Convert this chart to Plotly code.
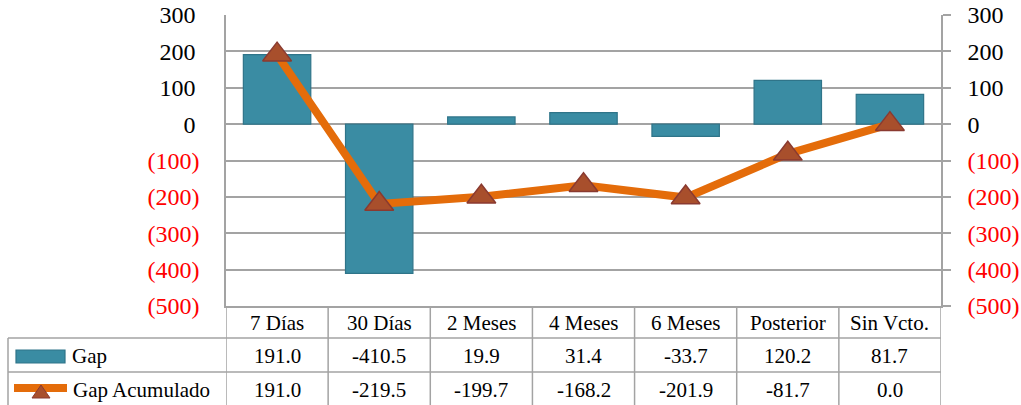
import plotly.graph_objects as go

# ---- data ----
categories = ["7 Días", "30 Días", "2 Meses", "4 Meses", "6 Meses", "Posterior", "Sin Vcto."]
gap = [191.0, -410.5, 19.9, 31.4, -33.7, 120.2, 81.7]
gap_acumulado = [191.0, -219.5, -199.7, -168.2, -201.9, -81.7, 0.0]
y_ticks = [300, 200, 100, 0, -100, -200, -300, -400, -500]
series_names = ["Gap", "Gap Acumulado"]

# ---- layout constants ----
W, H = 1021, 405
ML, MR, MT, MB = 226, 80, 15, 99
PW = W - ML - MR
PH = H - MT - MB
FONT = "Liberation Serif, Times New Roman, serif"
GRID = "#A3A3A3"
BAR = "#3A8CA3"
BAR_EDGE = "#2F7489"
ORANGE = "#E46C0A"
TRI = "#A84F2C"
TRI_EDGE = "#8A3A30"


def px_x(px):
    return (px - ML) / PW


def px_y(py):
    return (H - MB - py) / PH


def fmt_tick(v, pad):
    if v < 0:
        return f'<span style="color:#FF0000">({abs(v)})</span>'
    return f"{v}" + ("\u2006" if pad else "")


fig = go.Figure()
fig.add_trace(go.Bar(
    x=list(range(len(categories))), y=gap, name=series_names[0],
    width=0.66, marker=dict(color=BAR, line=dict(color=BAR_EDGE, width=1.2)),
    yaxis="y", showlegend=False,
))
fig.add_trace(go.Scatter(
    x=list(range(len(categories))), y=gap_acumulado, name=series_names[1],
    mode="lines+markers", line=dict(color=ORANGE, width=8),
    marker=dict(symbol="triangle-up", size=25, color=TRI, line=dict(color=TRI_EDGE, width=1.5)),
    yaxis="y2", showlegend=False,
))

yrange = [-500, 300]
common_y = dict(
    range=yrange, tickvals=y_ticks, showgrid=True, gridcolor=GRID, gridwidth=1.5,
    zeroline=False, showline=True, linecolor=GRID, linewidth=1.5, automargin=False,
    tickfont=dict(family=FONT, size=24, color="black"),
)
fig.update_layout(
    width=W, height=H, margin=dict(l=ML, r=MR, t=MT, b=MB, autoexpand=False),
    paper_bgcolor="white", plot_bgcolor="white", bargap=0.34,
    xaxis=dict(
        range=[-0.5, len(categories) - 0.5], tickvals=list(range(len(categories))),
        ticktext=categories, showgrid=False, zeroline=False, automargin=False,
        showline=True, linecolor=GRID, linewidth=1.5, ticks="", showticklabels=False,
    ),
    yaxis=dict(**common_y, side="left", ticktext=[fmt_tick(v, True) for v in y_ticks],
               ticks="", ticklabelstandoff=20),
    yaxis2=dict(**common_y, side="right", overlaying="y",
                ticktext=[fmt_tick(v, False) for v in y_ticks],
                ticks="outside", ticklen=8, tickcolor=GRID, tickwidth=1.5,
                ticklabelstandoff=12),
)

shapes = []
line_style = dict(color=GRID, width=1.5)
table_bottom = 406
# horizontal table lines
for py in (338, 372):
    shapes.append(dict(type="line", xref="paper", yref="paper",
                       x0=px_x(8), x1=1, y0=px_y(py), y1=px_y(py), line=line_style))
# vertical table lines at category boundaries
for k in range(len(categories) + 1):
    shapes.append(dict(type="line", xref="x", yref="paper",
                       x0=k - 0.5, x1=k - 0.5, y0=0, y1=px_y(table_bottom), line=line_style))
# left edge of legend column
shapes.append(dict(type="line", xref="paper", yref="paper",
                   x0=px_x(8), x1=px_x(8), y0=px_y(338), y1=px_y(table_bottom), line=line_style))
# legend icon: bar
shapes.append(dict(type="rect", xref="paper", yref="paper",
                   x0=px_x(16), x1=px_x(65), y0=px_y(363), y1=px_y(350),
                   fillcolor=BAR, line=dict(color=BAR_EDGE, width=1.2)))
# legend icon: line + triangle
shapes.append(dict(type="line", xref="paper", yref="paper",
                   x0=px_x(14), x1=px_x(67), y0=px_y(388), y1=px_y(388),
                   line=dict(color=ORANGE, width=8)))
tri = (f"M {px_x(32)},{px_y(398)} L {px_x(50)},{px_y(398)} "
       f"L {px_x(41)},{px_y(385)} Z")
shapes.append(dict(type="path", xref="paper", yref="paper", path=tri,
                   fillcolor=TRI, line=dict(color=TRI_EDGE, width=1)))
fig.update_layout(shapes=shapes)

annotations = []
text_font = dict(family=FONT, size=21, color="black")
for i, c in enumerate(categories):
    annotations.append(dict(x=i, xref="x", y=px_y(323), yref="paper", text=c,
                            showarrow=False, font=text_font,
                            xanchor="center", yanchor="middle"))
row_y = [356, 390]
for row, vals in enumerate([gap, gap_acumulado]):
    for i, v in enumerate(vals):
        annotations.append(dict(x=i, xref="x", y=px_y(row_y[row]), yref="paper",
                                text=f"{v:.1f}", showarrow=False, font=text_font,
                                xanchor="center", yanchor="middle"))
    annotations.append(dict(x=px_x(70 if row == 0 else 71), xref="paper",
                            y=px_y(row_y[row]), yref="paper",
                            text=series_names[row], showarrow=False, font=text_font,
                            xanchor="left", yanchor="middle"))
fig.update_layout(annotations=annotations)

fig.write_html(
    "out.html",
    config={"displayModeBar": False},
    post_script="document.body.style.margin='0';document.body.style.overflow='hidden';",
)
